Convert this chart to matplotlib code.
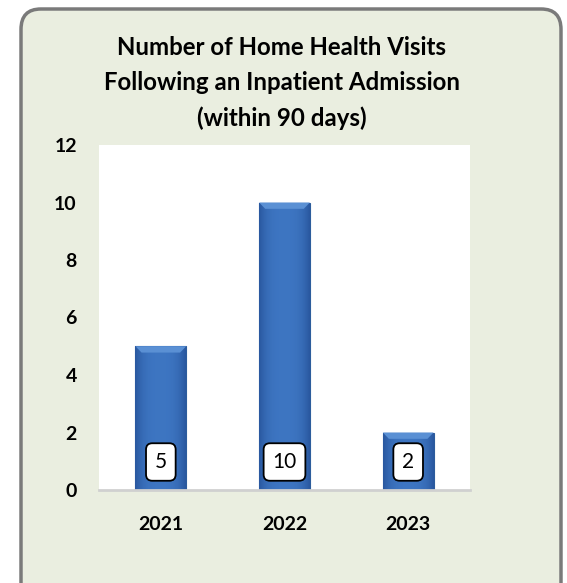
import matplotlib
matplotlib.use("Agg")
import matplotlib.pyplot as plt
import numpy as np
from matplotlib.patches import FancyBboxPatch
import matplotlib.transforms as mtransforms

years = ["2021", "2022", "2023"]
visits = [5, 10, 2]
yticks = [0, 2, 4, 6, 8, 10, 12]
title = "Number of Home Health Visits\nFollowing an Inpatient Admission\n(within 90 days)"

W, H = 567, 583
fig = plt.figure(figsize=(W / 100, H / 100), dpi=100)
fig.patch.set_facecolor("white")

# outer rounded panel
box = FancyBboxPatch((21 / W, -0.05), (561 - 21) / W, (H - 9) / H + 0.05,
                     boxstyle="round,pad=0,rounding_size=0.035",
                     transform=fig.transFigure, facecolor="#EAEEE0",
                     edgecolor="#7A7A7A", linewidth=2.5, zorder=0)
fig.patches.append(box)

ax = fig.add_axes([99 / W, 1 - 490 / H, (470 - 99) / W, (490 - 145) / H])
ax.set_zorder(3)
ax.set_facecolor("white")
x = np.arange(len(years))
bars = ax.bar(x, visits, width=0.41, color="#3A72BD", edgecolor="#2C5C9C",
              linewidth=0.8, zorder=2)

# gradient shading clipped to bars
grad = np.linspace(0, 1, 256)
g = np.abs(grad - 0.5) * 2
img = np.zeros((1, 256, 4))
img[0, :, 0] = 0.24 - 0.08 * g ** 3
img[0, :, 1] = 0.46 - 0.12 * g ** 3
img[0, :, 2] = 0.76 - 0.14 * g ** 3
img[0, :, 3] = 1
for b in bars:
    x0, w, h = b.get_x(), b.get_width(), b.get_height()
    im = ax.imshow(img, extent=[x0, x0 + w, 0, h], aspect="auto", zorder=2.1,
                   interpolation="bicubic")
    im.set_clip_path(b)
    # top bevel highlight
    ax.fill([x0, x0 + w, x0 + w * 0.88, x0 + w * 0.12],
            [h, h, h - 0.22, h - 0.22], color="#5A90D4", zorder=2.2, lw=0)

ax.set_xlim(-0.5, 2.5)
ax.set_ylim(0, 12)
ax.set_yticks(yticks)
ax.set_xticks(x)
ax.set_xticklabels(years)
for s in ["top", "right", "left"]:
    ax.spines[s].set_visible(False)
ax.spines["bottom"].set_color("#D0D0D0")
ax.spines["bottom"].set_linewidth(2)
ax.tick_params(axis="both", length=0)
ax.tick_params(axis="y", pad=16)
ax.tick_params(axis="x", pad=19)
for lbl in ax.get_yticklabels() + ax.get_xticklabels():
    lbl.set_fontfamily("Lato")
    lbl.set_fontweight("bold")
    lbl.set_fontsize(14)

# value labels in rounded boxes near the bar base
off = mtransforms.offset_copy(ax.transData, fig=fig, x=0, y=28, units="dots")
for xi, v in zip(x, visits):
    ax.text(xi, 0, str(v), transform=off, ha="center", va="center",
            fontsize=15, family="Lato", color="black", zorder=5,
            bbox=dict(boxstyle="round,pad=0.42,rounding_size=0.3",
                      facecolor="white", edgecolor="black", linewidth=1.3))

fig.text(0.497, 1 - 36 / H, title, ha="center", va="top", fontsize=17.3,
         fontweight="bold", family="Lato", linespacing=1.62, zorder=4)

fig.savefig("out.png", dpi=100)
